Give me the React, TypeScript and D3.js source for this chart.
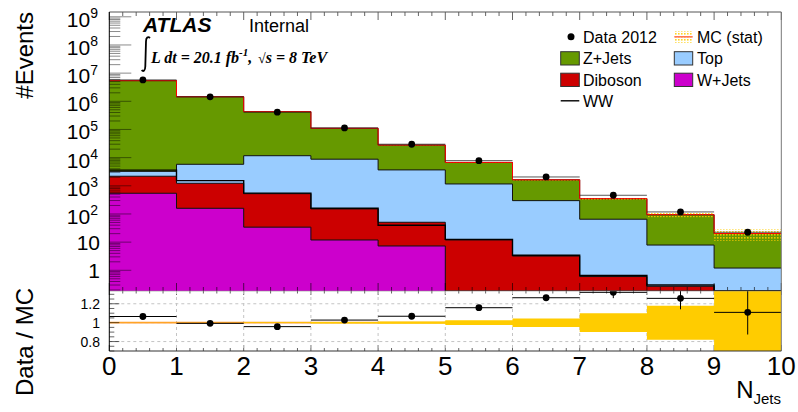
import React from "react";
import * as d3 from "d3";

// ---------------- data ----------------
const binEdges = [0, 1, 2, 3, 4, 5, 6, 7, 8, 9, 10];
const dataCounts = [5750000, 1440000, 410000, 113000, 29900, 7820, 2060, 461, 118, 22.4];
const zJets = [5396000, 1445000, 416300, 101200, 24340, 5590, 1333, 284, 86, 19];
const topQuark = [1070, 4570, 11170, 8650, 3610, 1150, 294, 64.4, 7.6, 1.1];
const diboson = [1640, 1070, 492, 139, 43.4, 11.9, 3.2, 0.6, 0.27, 0.1];
const wJets = [543, 159, 34, 11.9, 7.3, 0, 0, 0, 0, 0];
const wwLine = [3600, 1520, 550, 160, 39.7, 12.5, 3.4, 0.65, 0.3, 0.05];
const mcStatRel = [0.002, 0.002, 0.003, 0.008, 0.012, 0.025, 0.045, 0.1, 0.18, 0.45];
const xTickLabels = ["0", "1", "2", "3", "4", "5", "6", "7", "8", "9", "10"];
const logExponents = [0, 1, 2, 3, 4, 5, 6, 7, 8, 9];
const ratioTicks = [0.8, 1, 1.2];

const COLORS = {
  zjets: "#669900",
  top: "#99ccff",
  diboson: "#cc0000",
  wjets: "#cc00cc",
  band: "#ffcc00",
};

const W = 798;
const H = 412;
const L = 109.3;
const R = 781.3;
const T = 12;
const MB = 291;
const RB = 351;
const SANS = "'Liberation Sans', Arial, Helvetica, sans-serif";
const SERIF = "'Liberation Serif', 'Times New Roman', serif";

export default function App() {
  const x = d3.scaleLinear().domain([0, 10]).range([L, R]);
  const y = d3.scaleLog().domain([0.184, 1.48e9]).range([MB, T]).clamp(true);
  const yr = d3.scaleLinear().domain([0.7, 1.335]).range([RB, MB]);
  const safe = (v: number) => Math.max(v, 1e-4);

  const cumW = wJets.map((v) => v);
  const cumD = cumW.map((v, i) => v + diboson[i]);
  const cumT = cumD.map((v, i) => v + topQuark[i]);
  const total = cumT.map((v, i) => v + zJets[i]);

  const pts = (vals: number[]) => binEdges.map((e) => [e, vals[Math.min(e, vals.length - 1)]] as [number, number]);

  const stepLine = d3
    .line<[number, number]>()
    .x((d) => x(d[0]))
    .y((d) => y(safe(d[1])))
    .curve(d3.curveStepAfter);
  const stepArea = d3
    .area<[number, number]>()
    .x((d) => x(d[0]))
    .y0(MB)
    .y1((d) => y(safe(d[1])))
    .curve(d3.curveStepAfter);

  const bandPts = binEdges.map((e) => {
    const i = Math.min(e, 9);
    return { e, lo: total[i] * (1 - mcStatRel[i]), hi: total[i] * (1 + mcStatRel[i]) };
  });
  const bandArea = d3
    .area<{ e: number; lo: number; hi: number }>()
    .x((d) => x(d.e))
    .y0((d) => y(safe(d.lo)))
    .y1((d) => y(safe(d.hi)))
    .curve(d3.curveStepAfter);
  const ratioBand = d3
    .area<{ e: number; lo: number; hi: number }>()
    .x((d) => x(d.e))
    .y0((d) => yr(1 - mcStatRel[Math.min(d.e, 9)]))
    .y1((d) => yr(1 + mcStatRel[Math.min(d.e, 9)]))
    .curve(d3.curveStepAfter);

  const stacks = [
    { vals: total, color: COLORS.zjets },
    { vals: cumT, color: COLORS.top },
    { vals: cumD, color: COLORS.diboson },
    { vals: cumW, color: COLORS.wjets },
  ];

  // ticks
  const majorX = d3.range(0, 11);
  const minorX = d3.range(0, 50).map((i) => i * 0.2).filter((v) => Math.abs(v - Math.round(v)) > 1e-6);
  const minorLog: number[] = [];
  for (let n = -1; n <= 9; n++) {
    for (let k = 2; k <= 9; k++) {
      const v = k * Math.pow(10, n);
      if (v > 0.184 && v < 1.48e9) minorLog.push(v);
    }
  }
  const minorRatio = d3.range(0, 14).map((i) => 0.7 + i * 0.05).filter((v) => v < 1.33 && ![0.8, 1, 1.2].some((m) => Math.abs(m - v) < 1e-6));

  const ratio = dataCounts.map((d, i) => d / total[i]);
  const ratioErr = dataCounts.map((d, i) => Math.sqrt(d) / total[i]);

  return (
    <svg width={W} height={H} style={{ position: "absolute", left: 0, top: 0, background: "#fff" }} fontFamily={SANS}>
      <defs>
        <clipPath id="mainClip">
          <rect x={L} y={T} width={R - L} height={MB - T} />
        </clipPath>
        <clipPath id="ratioClip">
          <rect x={L} y={MB} width={R - L} height={RB - MB} />
        </clipPath>
        <pattern id="statDots" width={3} height={3} patternUnits="userSpaceOnUse">
          <rect width={1.6} height={1.6} fill={COLORS.band} opacity={0.85} />
        </pattern>
      </defs>
      <rect x={0} y={0} width={W} height={H} fill="#fff" />

      {/* main panel */}
      <g clipPath="url(#mainClip)">
        {stacks.map((s, i) => (
          <g key={i}>
            <path d={stepArea(pts(s.vals)) || ""} fill={s.color} />
            <path d={stepLine(pts(s.vals)) || ""} fill="none" stroke="#111" strokeWidth={1} />
          </g>
        ))}
        <path d={stepLine(pts(wwLine)) || ""} fill="none" stroke="#000" strokeWidth={1.4} />
        <path d={bandArea(bandPts) || ""} fill="url(#statDots)" />
        <path d={stepLine(pts(total)) || ""} fill="none" stroke="#ff0000" strokeWidth={1} />
        {/* data */}
        {dataCounts.map((d, i) => (
          <g key={i}>
            <line x1={x(i)} x2={x(i + 1)} y1={y(d)} y2={y(d)} stroke="#222" strokeWidth={1} opacity={0.75} />
            <line x1={x(i + 0.5)} x2={x(i + 0.5)} y1={y(d + Math.sqrt(d))} y2={y(Math.max(d - Math.sqrt(d), 0.01))} stroke="#000" strokeWidth={1} />
            <circle cx={x(i + 0.5)} cy={y(d)} r={3.4} fill="#000" />
          </g>
        ))}
      </g>

      {/* main panel y ticks */}
      <g stroke="#000" strokeWidth={1} opacity={0.45}>
        {logExponents.map((n) => (
          <line key={"M" + n} x1={L} x2={L + 22} y1={y(Math.pow(10, n))} y2={y(Math.pow(10, n))} />
        ))}
        {minorLog.map((v, i) => (
          <line key={"m" + i} x1={L} x2={L + 11} y1={y(v)} y2={y(v)} />
        ))}
      </g>
      {/* main panel x ticks */}
      <g stroke="#000" strokeWidth={1} opacity={0.6}>
        {majorX.map((v) => (
          <g key={"X" + v}>
            <line x1={x(v)} x2={x(v)} y1={MB} y2={MB - 8} />
            <line x1={x(v)} x2={x(v)} y1={T} y2={T + 8} />
            <line x1={x(v)} x2={x(v)} y1={RB} y2={RB - 6} />
            <line x1={x(v)} x2={x(v)} y1={MB} y2={MB + 4} />
          </g>
        ))}
        {minorX.map((v, i) => (
          <g key={"x" + i}>
            <line x1={x(v)} x2={x(v)} y1={MB} y2={MB - 4} />
            <line x1={x(v)} x2={x(v)} y1={T} y2={T + 4} />
            <line x1={x(v)} x2={x(v)} y1={RB} y2={RB - 3} />
            <line x1={x(v)} x2={x(v)} y1={MB} y2={MB + 2.5} />
          </g>
        ))}
      </g>

      {/* y tick labels main */}
      {logExponents.map((n) => {
        const ty = y(Math.pow(10, n));
        if (n === 0)
          return (
            <text key={n} x={100} y={ty + 7.5} fontSize={21} textAnchor="end">
              1
            </text>
          );
        if (n === 1)
          return (
            <text key={n} x={100} y={ty + 7.5} fontSize={21} textAnchor="end">
              10
            </text>
          );
        return (
          <text key={n} x={98} y={ty + 10} fontSize={21} textAnchor="end">
            10
            <tspan fontSize={14} dy={-8.5}>
              {n}
            </tspan>
          </text>
        );
      })}

      {/* ratio panel */}
      <g clipPath="url(#ratioClip)">
        <g stroke="#c4c4c4" strokeWidth={1} strokeDasharray="3,3">
          {d3.range(1, 10).map((v) => (
            <line key={"gv" + v} x1={x(v)} x2={x(v)} y1={MB} y2={RB} />
          ))}
          {ratioTicks.map((v) => (
            <line key={"gh" + v} x1={L} x2={R} y1={yr(v)} y2={yr(v)} />
          ))}
        </g>
        <line x1={L} x2={R} y1={yr(1)} y2={yr(1)} stroke="#ff9933" strokeWidth={1.6} />
        <path d={ratioBand(bandPts) || ""} fill={COLORS.band} />
        {ratio.map((r, i) => (
          <g key={i}>
            <line x1={x(i)} x2={x(i + 1)} y1={yr(r)} y2={yr(r)} stroke="#000" strokeWidth={1} />
            <line x1={x(i + 0.5)} x2={x(i + 0.5)} y1={yr(r + ratioErr[i])} y2={yr(r - ratioErr[i])} stroke="#000" strokeWidth={1} />
            <circle cx={x(i + 0.5)} cy={yr(r)} r={3.4} fill="#000" />
          </g>
        ))}
      </g>
      <g stroke="#000" strokeWidth={1} opacity={0.6}>
        {ratioTicks.map((v) => (
          <line key={"R" + v} x1={L} x2={L + 10} y1={yr(v)} y2={yr(v)} />
        ))}
        {minorRatio.map((v, i) => (
          <line key={"r" + i} x1={L} x2={L + 5} y1={yr(v)} y2={yr(v)} />
        ))}
      </g>
      {ratioTicks.map((v) => (
        <text key={v} x={100} y={yr(v) + 5} fontSize={14} textAnchor="end">
          {v === 1 ? "1" : v.toFixed(1)}
        </text>
      ))}

      {/* frames */}
      <g fill="none">
        <line x1={L} x2={R} y1={T} y2={T} stroke="#555" />
        <line x1={R} x2={R} y1={T} y2={RB} stroke="#777" />
        <line x1={L} x2={R} y1={MB} y2={MB} stroke="#888" strokeWidth={0.6} />
        <line x1={L} x2={R} y1={RB} y2={RB} stroke="#333" />
        <line x1={L} x2={L} y1={T} y2={RB} stroke="#000" />
      </g>

      {/* x tick labels */}
      {xTickLabels.map((t, i) => (
        <text key={t} x={x(i)} y={375} fontSize={26} textAnchor="middle">
          {t}
        </text>
      ))}
      <text x={781} y={398} fontSize={24} textAnchor="end">
        N
        <tspan fontSize={15} dy={6}>
          Jets
        </tspan>
      </text>

      {/* axis titles */}
      <text transform="translate(33,12) rotate(-90)" fontSize={24} textAnchor="end">
        #Events
      </text>
      <text transform="translate(33,288) rotate(-90)" fontSize={24} textAnchor="end">
        Data / MC
      </text>

      {/* ATLAS label */}
      <text x={143} y={32} fontSize={21} fontWeight="bold" fontStyle="italic">
        ATLAS
      </text>
      <text x={249} y={32} fontSize={18}>
        Internal
      </text>
      <path d="M150,38 C148,36 146,37.5 146,41.5 L145.3,66.5 C145.2,70.5 143.4,72 141.6,70.2" fill="none" stroke="#000" strokeWidth={1.8} />
      <text x={151} y={63} fontSize={16} fontWeight="bold" fontStyle="italic" fontFamily={SERIF}>
        L dt = 20.1 fb
        <tspan fontSize={11} dy={-7}>
          -1
        </tspan>
        <tspan dy={7}>,</tspan>
      </text>
      <text x={258} y={63} fontSize={16} fontWeight="bold" fontStyle="italic" fontFamily={SERIF}>
        <tspan fontStyle="normal" fontWeight="normal" fontSize={14}>
          √
        </tspan>
        s = 8 TeV
      </text>

      {/* legend */}
      <g fontSize={16}>
        <circle cx={571} cy={36.7} r={3.5} fill="#000" />
        <text x={583} y={42.7}>Data 2012</text>
        <rect x={674.3} y={31} width={18.4} height={11.7} fill="url(#statDots)" />
        <line x1={674.3} x2={692.7} y1={36.8} y2={36.8} stroke="#ff7755" strokeWidth={1.6} />
        <text x={697} y={42.7}>MC (stat)</text>

        <rect x={560.7} y={51.7} width={18.6} height={13.3} fill={COLORS.zjets} stroke="#333" />
        <text x={583} y={64.3}>Z+Jets</text>
        <rect x={674.3} y={51.7} width={18.4} height={13.3} fill={COLORS.top} stroke="#333" />
        <text x={697} y={64.3}>Top</text>

        <rect x={560.7} y={73.2} width={18.6} height={13.3} fill={COLORS.diboson} stroke="#333" />
        <text x={583} y={85.8}>Diboson</text>
        <rect x={674.3} y={73.2} width={18.4} height={13.3} fill={COLORS.wjets} stroke="#333" />
        <text x={697} y={85.8}>W+Jets</text>

        <line x1={560.7} x2={579.3} y1={100.8} y2={100.8} stroke="#000" strokeWidth={1.4} />
        <text x={583} y={107.3}>WW</text>
      </g>
    </svg>
  );
}
